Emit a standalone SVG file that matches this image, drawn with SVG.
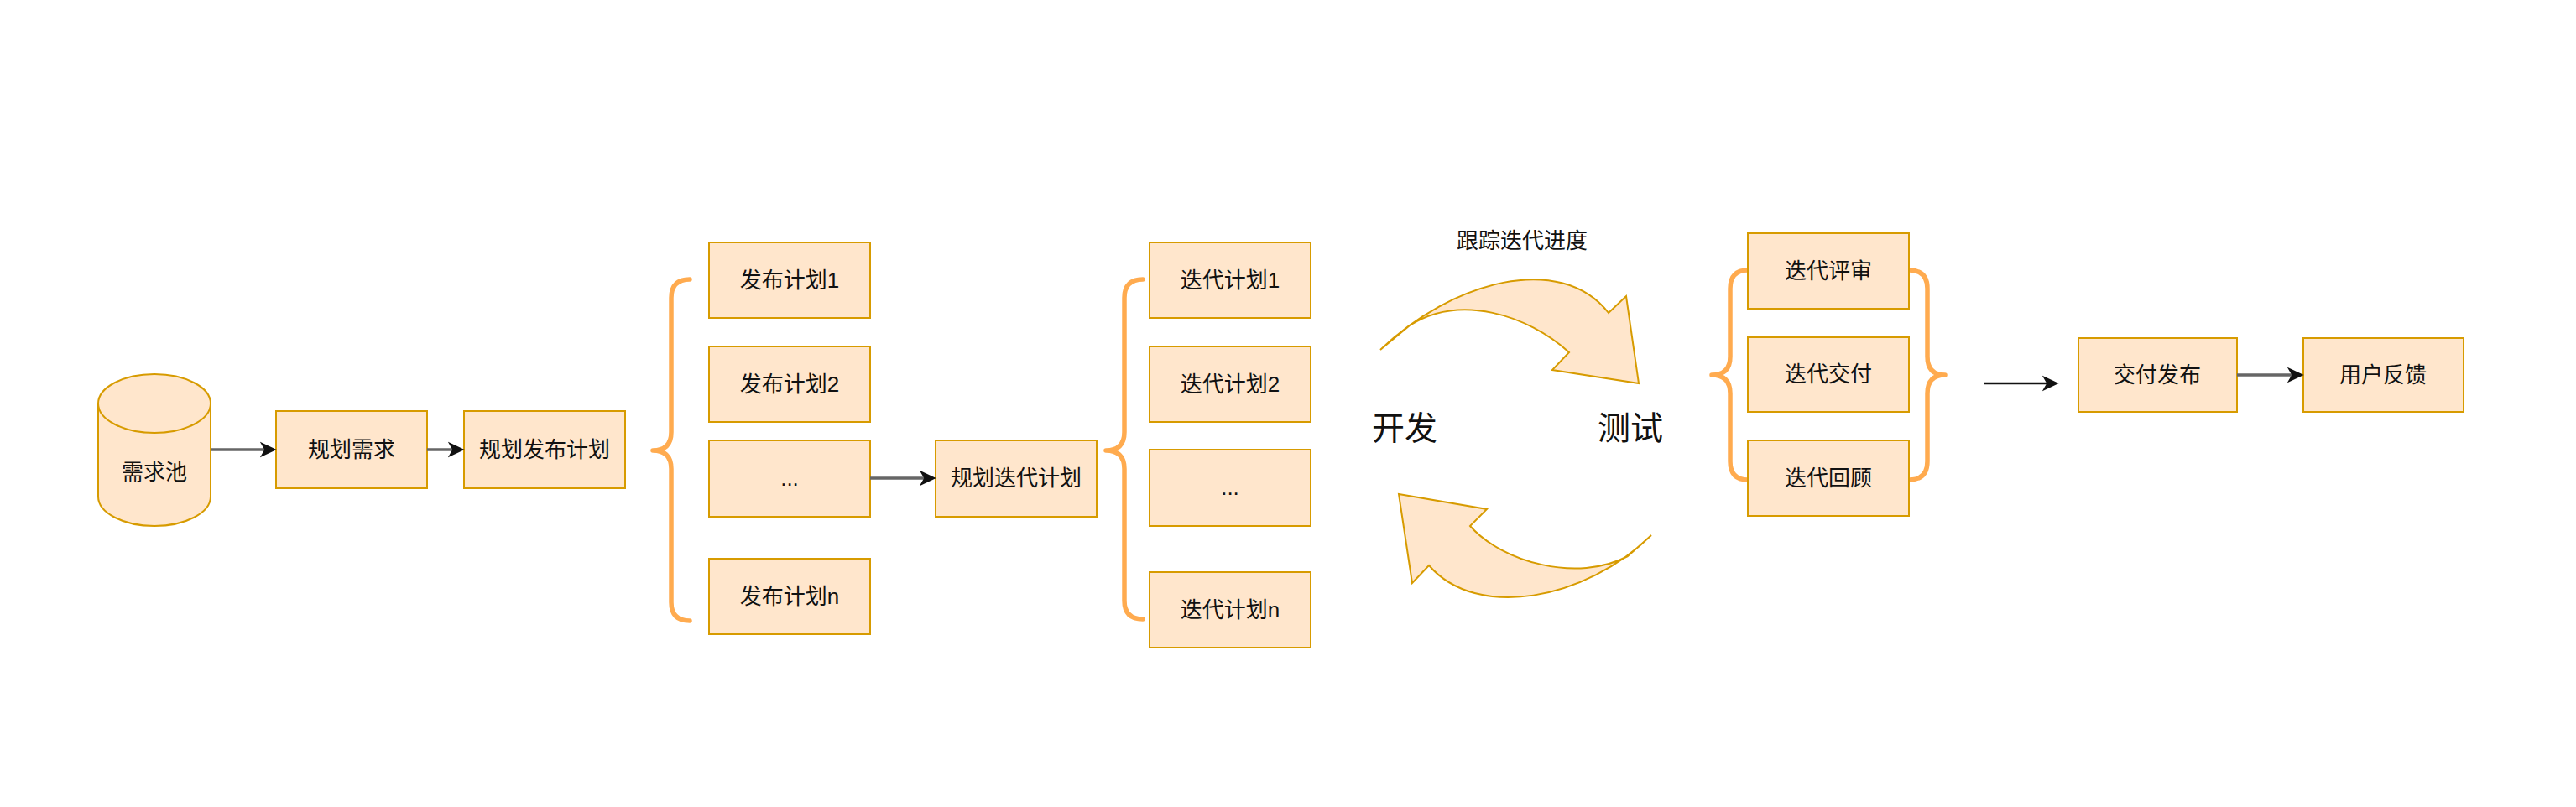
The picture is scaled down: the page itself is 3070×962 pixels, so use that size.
<svg xmlns="http://www.w3.org/2000/svg" width="3070" height="962" viewBox="0 0 3070 962">
<style>
.box{fill:#ffe6cc;stroke:#d79b00;stroke-width:2}
.t{font-family:"Liberation Sans","Noto Sans CJK SC",sans-serif;font-size:26px;fill:#111;text-anchor:middle;dominant-baseline:central}
.big{font-size:39px}
.brace{fill:none;stroke:#ffab4f;stroke-width:5.5;stroke-linecap:round;stroke-linejoin:round}
.edge{fill:none;stroke:#666;stroke-width:3.5}
.edge2{fill:none;stroke:#111;stroke-width:2.5}
.curv{fill:#ffe6cc;stroke:#d79b00;stroke-width:2;stroke-linejoin:miter}
</style>
<defs>
<marker id="ah" markerUnits="userSpaceOnUse" markerWidth="20" markerHeight="20" viewBox="0 0 18 18" refX="12" refY="9" orient="auto">
<path d="M0,0.5 L18,9 L0,17.5 L5,9 Z" fill="#111"/>
</marker>
</defs>
<rect width="3070" height="962" fill="#fff"/>

<g id="n-pool">
<path class="box" d="M117,481 A67,35 0 0 1 251,481 L251,592 A67,35 0 0 1 117,592 Z"/>
<path class="box" fill="none" d="M117,481 A67,35 0 0 0 251,481"/>
<text class="t" x="184" y="563">需求池</text>
</g>
<g id="n-req"><rect class="box" x="329" y="490" width="180" height="92"/><text class="t" x="419" y="536">规划需求</text></g>
<g id="n-relplan"><rect class="box" x="553" y="490" width="192" height="92"/><text class="t" x="649" y="536">规划发布计划</text></g>

<g id="brace1"><path class="brace" d="M822,333 Q800,333 800,355 L800,515 Q800,537 778,537 Q800,537 800,559 L800,718 Q800,740 822,740"/></g>

<g id="n-r1"><rect class="box" x="845" y="289" width="192" height="90"/><text class="t" x="941" y="334">发布计划1</text></g>
<g id="n-r2"><rect class="box" x="845" y="413" width="192" height="90"/><text class="t" x="941" y="458">发布计划2</text></g>
<g id="n-r3"><rect class="box" x="845" y="525" width="192" height="91"/><text class="t" x="941" y="570">...</text></g>
<g id="n-rn"><rect class="box" x="845" y="666" width="192" height="90"/><text class="t" x="941" y="711">发布计划n</text></g>

<g id="n-iterplan"><rect class="box" x="1115" y="525" width="192" height="91"/><text class="t" x="1211" y="570">规划迭代计划</text></g>

<g id="brace2"><path class="brace" d="M1362,333 Q1340,333 1340,355 L1340,515 Q1340,537 1318,537 Q1340,537 1340,559 L1340,716 Q1340,738 1362,738"/></g>

<g id="n-i1"><rect class="box" x="1370" y="289" width="192" height="90"/><text class="t" x="1466" y="334">迭代计划1</text></g>
<g id="n-i2"><rect class="box" x="1370" y="413" width="192" height="90"/><text class="t" x="1466" y="458">迭代计划2</text></g>
<g id="n-i3"><rect class="box" x="1370" y="536" width="192" height="91"/><text class="t" x="1466" y="581">...</text></g>
<g id="n-in"><rect class="box" x="1370" y="682" width="192" height="90"/><text class="t" x="1466" y="727">迭代计划n</text></g>

<g id="n-track"><text class="t" x="1814" y="287">跟踪迭代进度</text></g>
<g id="n-cycle-top"><path class="curv" d="M1645,417 C1730,335 1860,300 1917,373 L1938,353 L1953,457 L1850,441 L1870,420 C1820,375 1740,350 1680,388 Z"/></g>
<g id="n-cycle-bottom"><path class="curv" d="M1968,638 C1890,715 1760,740 1703,674 L1683,695 L1667,589 L1772,607 L1752,627 C1790,670 1880,695 1940,663 Z"/></g>
<g id="n-dev"><text class="t big" x="1674" y="510">开发</text></g>
<g id="n-test"><text class="t big" x="1943" y="510">测试</text></g>

<g id="brace3"><path class="brace" d="M2083,322 Q2062,322 2062,344 L2062,425 Q2062,447 2040,447 Q2062,447 2062,469 L2062,550 Q2062,572 2083,572"/></g>
<g id="brace4"><path class="brace" d="M2275,322 Q2297,322 2297,344 L2297,425 Q2297,447 2318,447 Q2297,447 2297,469 L2297,550 Q2297,572 2275,572"/></g>

<g id="n-review"><rect class="box" x="2083" y="278" width="192" height="90"/><text class="t" x="2179" y="323">迭代评审</text></g>
<g id="n-deliver"><rect class="box" x="2083" y="402" width="192" height="89"/><text class="t" x="2179" y="446">迭代交付</text></g>
<g id="n-retro"><rect class="box" x="2083" y="525" width="192" height="90"/><text class="t" x="2179" y="570">迭代回顾</text></g>

<g id="n-release"><rect class="box" x="2477" y="403" width="189" height="88"/><text class="t" x="2571" y="447">交付发布</text></g>
<g id="n-feedback"><rect class="box" x="2745" y="403" width="191" height="88"/><text class="t" x="2840" y="447">用户反馈</text></g>

<g id="connectors">
<line class="edge" x1="251" y1="536" x2="323" y2="536" marker-end="url(#ah)"/>
<line class="edge" x1="509" y1="536" x2="547" y2="536" marker-end="url(#ah)"/>
<line class="edge" x1="1037" y1="570" x2="1109" y2="570" marker-end="url(#ah)"/>
<line class="edge2" x1="2364" y1="457" x2="2447" y2="457" marker-end="url(#ah)"/>
<line class="edge" x1="2666" y1="447" x2="2739" y2="447" marker-end="url(#ah)"/>
</g>
</svg>
